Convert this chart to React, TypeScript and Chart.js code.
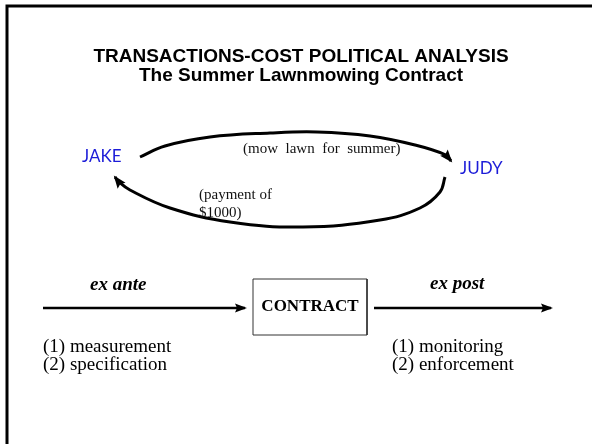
import React, { useEffect, useRef } from "react";
import { Chart, registerables } from "chart.js";

Chart.register(...registerables);

// ---- diagram content ----
const titleLines = ["TRANSACTIONS-COST POLITICAL ANALYSIS", "The Summer Lawnmowing Contract"];
const parties = ["JAKE", "JUDY"];
const flowLabels = ["(mow  lawn  for  summer)", "(payment of", "$1000)"];
const phaseLabels = ["ex ante", "ex post"];
const contractLabel = "CONTRACT";
const exAnteTasks = ["(1) measurement", "(2) specification"];
const exPostTasks = ["(1) monitoring", "(2) enforcement"];

// ---- diagram geometry (data space 0..592 x 0..444) ----
const frameX = [7, 7, 592];
const frameY = [444, 6, 6];
const serviceArcX = [140, 165, 210, 270, 317, 370, 415, 446, 451];
const serviceArcY = [157, 146, 137, 133, 132, 136, 145, 155, 161];
const paymentArcX = [445, 440, 420, 380, 303, 230, 170, 130, 118, 115];
const paymentArcY = [177, 192, 208, 220, 227, 222, 208, 190, 181, 177];
const exAnteArrowX = [43, 245];
const exPostArrowX = [374, 551];
const timelineY = [308, 308];
const boxX = [253, 367, 367, 253, 253];
const boxY = [279, 279, 335, 335, 279];

const pts = (xs: number[], ys: number[]) => xs.map((x, i) => ({ x, y: ys[i] }));

const SERIF = '"Liberation Serif", "Times New Roman", serif';
const SANS = '"Liberation Sans", Arial, sans-serif';

type TextItem = { t: string; x: number; y: number; font: string; color: string; align: CanvasTextAlign };

const texts: TextItem[] = [
  { t: titleLines[0], x: 301, y: 57, font: `bold 19px ${SANS}`, color: "#000", align: "center" },
  { t: titleLines[1], x: 301, y: 76, font: `bold 19px ${SANS}`, color: "#000", align: "center" },
  { t: parties[0], x: 82, y: 157, font: `17px Lato, ${SANS}`, color: "#1c1cd8", align: "left" },
  { t: parties[1], x: 460, y: 169, font: `17px Lato, ${SANS}`, color: "#1c1cd8", align: "left" },
  { t: flowLabels[0], x: 243, y: 149, font: `15px ${SERIF}`, color: "#111", align: "left" },
  { t: flowLabels[1], x: 199, y: 195, font: `15px ${SERIF}`, color: "#111", align: "left" },
  { t: flowLabels[2], x: 199, y: 213, font: `15px ${SERIF}`, color: "#111", align: "left" },
  { t: phaseLabels[0], x: 90, y: 285, font: `italic bold 19px ${SERIF}`, color: "#000", align: "left" },
  { t: phaseLabels[1], x: 430, y: 284, font: `italic bold 19px ${SERIF}`, color: "#000", align: "left" },
  { t: contractLabel, x: 310, y: 307, font: `bold 17px ${SERIF}`, color: "#000", align: "center" },
  { t: exAnteTasks[0], x: 43, y: 347, font: `19px ${SERIF}`, color: "#000", align: "left" },
  { t: exAnteTasks[1], x: 43, y: 365, font: `19px ${SERIF}`, color: "#000", align: "left" },
  { t: exPostTasks[0], x: 392, y: 347, font: `19px ${SERIF}`, color: "#000", align: "left" },
  { t: exPostTasks[1], x: 392, y: 365, font: `19px ${SERIF}`, color: "#000", align: "left" },
];

const arrowPlugin = {
  id: "arrowHeads",
  afterDatasetsDraw(chart: any) {
    const ctx = chart.ctx;
    chart.data.datasets.forEach((ds: any, i: number) => {
      if (!ds.arrowSize) return;
      const meta = chart.getDatasetMeta(i);
      const els = meta.data;
      const a = els[els.length - 2];
      const b = els[els.length - 1];
      const ang = Math.atan2(b.y - a.y, b.x - a.x);
      const L = ds.arrowSize;
      const W = ds.arrowSize * 0.45;
      ctx.save();
      ctx.fillStyle = ds.borderColor;
      ctx.translate(b.x, b.y);
      ctx.rotate(ang);
      ctx.beginPath();
      ctx.moveTo(2, 0);
      ctx.lineTo(-L, -W);
      ctx.lineTo(-L * 0.8, 0);
      ctx.lineTo(-L, W);
      ctx.closePath();
      ctx.fill();
      ctx.restore();
    });
  },
};

const textPlugin = {
  id: "diagramText",
  afterDraw(chart: any) {
    const ctx = chart.ctx;
    const xs = chart.scales.x;
    const ys = chart.scales.y;
    ctx.save();
    ctx.textBaseline = "middle";
    texts.forEach((it) => {
      ctx.font = it.font;
      ctx.fillStyle = it.color;
      ctx.textAlign = it.align;
      ctx.fillText(it.t, xs.getPixelForValue(it.x), ys.getPixelForValue(it.y));
    });
    ctx.restore();
  },
};

const line = (data: any[], width: number, extra: any = {}) => ({
  data,
  showLine: true,
  borderColor: "#000",
  backgroundColor: "#000",
  borderWidth: width,
  pointRadius: 0,
  fill: false,
  tension: 0,
  ...extra,
});

export default function App() {
  const ref = useRef<HTMLCanvasElement>(null);
  useEffect(() => {
    if (!ref.current) return;
    const chart = new Chart(ref.current, {
      type: "scatter",
      data: {
        datasets: [
          line(pts(frameX, frameY), 3, { borderJoinStyle: "miter" }),
          line(pts(serviceArcX, serviceArcY), 3, { tension: 0.4, arrowSize: 11 }),
          line(pts(paymentArcX, paymentArcY), 3, { tension: 0.4, arrowSize: 11 }),
          line(pts(exAnteArrowX, timelineY), 2.5, { arrowSize: 10 }),
          line(pts(exPostArrowX, timelineY), 2.5, { arrowSize: 10 }),
          line(pts(boxX, boxY), 1, { borderColor: "#333" }),
        ] as any,
      },
      options: {
        animation: false,
        responsive: false,
        devicePixelRatio: 1,
        layout: { padding: 0 },
        plugins: { legend: { display: false }, tooltip: { enabled: false } },
        events: [],
        scales: {
          x: { type: "linear", min: 0, max: 592, display: false },
          y: { type: "linear", min: 0, max: 444, reverse: true, display: false },
        },
      },
      plugins: [arrowPlugin, textPlugin],
    });
    return () => chart.destroy();
  }, []);
  return (
    <div style={{ position: "absolute", left: 0, top: 0, width: 592, height: 444, background: "#fff" }}>
      <canvas ref={ref} width={592} height={444} style={{ display: "block" }} />
    </div>
  );
}
